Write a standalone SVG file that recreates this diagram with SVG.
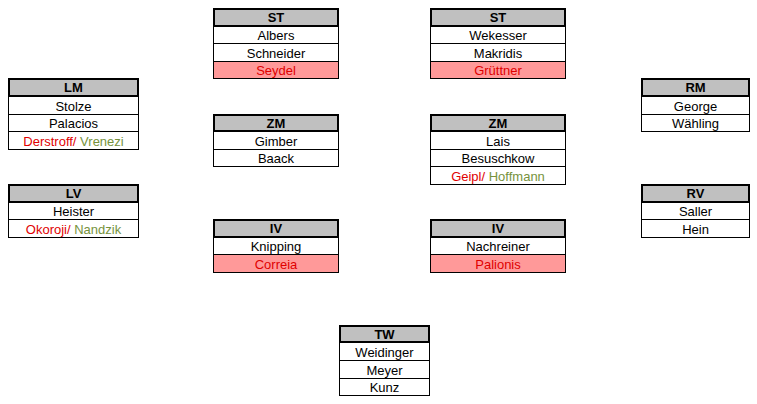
<svg xmlns="http://www.w3.org/2000/svg" width="757" height="404" viewBox="0 0 757 404">
<style>
.hd{fill:#C0C0C0;stroke:#000;stroke-width:2}
.c{fill:#fff;stroke:#000;stroke-width:1}
.p{fill:#FF9999;stroke:#000;stroke-width:1}
text{font-family:"Liberation Sans",Arial,sans-serif;font-size:13px;text-anchor:middle;fill:#000}
.b{font-weight:bold}
.r{fill:#E00000}
.g{fill:#76923C}
</style>
<rect width="757" height="404" fill="#fff"/>
<g id="connectors"/>
<g id="LM">
<rect class="c" x="8.5" y="96.5" width="130" height="18"/>
<rect class="c" x="8.5" y="114.5" width="130" height="17"/>
<rect class="c" x="8.5" y="131.5" width="130" height="18"/>
<rect class="hd" x="9" y="79" width="129" height="17"/>
<text class="b" x="73.5" y="92">LM</text>
<text x="73.5" y="110.5">Stolze</text>
<text x="73.5" y="128">Palacios</text>
<text x="73.5" y="145.5"><tspan class="r">Derstroff/ </tspan><tspan class="g">Vrenezi</tspan></text>
</g>
<g id="LV">
<rect class="c" x="8.5" y="202.5" width="130" height="17"/>
<rect class="c" x="8.5" y="219.5" width="130" height="18"/>
<rect class="hd" x="9" y="185" width="129" height="17"/>
<text class="b" x="73.5" y="198">LV</text>
<text x="73.5" y="216">Heister</text>
<text x="73.5" y="233.5"><tspan class="r">Okoroji/ </tspan><tspan class="g">Nandzik</tspan></text>
</g>
<g id="ST1">
<rect class="c" x="213.5" y="26.5" width="125" height="17"/>
<rect class="c" x="213.5" y="43.5" width="125" height="18"/>
<rect class="p" x="213.5" y="61.5" width="125" height="17"/>
<rect class="hd" x="214" y="9" width="124" height="17"/>
<text class="b" x="276" y="22">ST</text>
<text x="276" y="40">Albers</text>
<text x="276" y="57.5">Schneider</text>
<text class="r" x="276" y="75">Seydel</text>
</g>
<g id="ZM1">
<rect class="c" x="213.5" y="131.5" width="125" height="18"/>
<rect class="c" x="213.5" y="149.5" width="125" height="17"/>
<rect class="hd" x="214" y="115" width="124" height="16"/>
<text class="b" x="276" y="127.5">ZM</text>
<text x="276" y="145.5">Gimber</text>
<text x="276" y="163">Baack</text>
</g>
<g id="IV1">
<rect class="c" x="213.5" y="237.5" width="125" height="17"/>
<rect class="p" x="213.5" y="254.5" width="125" height="18"/>
<rect class="hd" x="214" y="220" width="124" height="17"/>
<text class="b" x="276" y="233">IV</text>
<text x="276" y="251">Knipping</text>
<text class="r" x="276" y="268.5">Correia</text>
</g>
<g id="ST2">
<rect class="c" x="430.5" y="26.5" width="135" height="17"/>
<rect class="c" x="430.5" y="43.5" width="135" height="18"/>
<rect class="p" x="430.5" y="61.5" width="135" height="17"/>
<rect class="hd" x="431" y="9" width="134" height="17"/>
<text class="b" x="498" y="22">ST</text>
<text x="498" y="40">Wekesser</text>
<text x="498" y="57.5">Makridis</text>
<text class="r" x="498" y="75">Grüttner</text>
</g>
<g id="ZM2">
<rect class="c" x="430.5" y="131.5" width="135" height="18"/>
<rect class="c" x="430.5" y="149.5" width="135" height="17"/>
<rect class="c" x="430.5" y="166.5" width="135" height="18"/>
<rect class="hd" x="431" y="115" width="134" height="16"/>
<text class="b" x="498" y="127.5">ZM</text>
<text x="498" y="145.5">Lais</text>
<text x="498" y="163">Besuschkow</text>
<text x="498" y="180.5"><tspan class="r">Geipl/ </tspan><tspan class="g">Hoffmann</tspan></text>
</g>
<g id="IV2">
<rect class="c" x="430.5" y="237.5" width="135" height="17"/>
<rect class="p" x="430.5" y="254.5" width="135" height="18"/>
<rect class="hd" x="431" y="220" width="134" height="17"/>
<text class="b" x="498" y="233">IV</text>
<text x="498" y="251">Nachreiner</text>
<text class="r" x="498" y="268.5">Palionis</text>
</g>
<g id="RM">
<rect class="c" x="641.5" y="96.5" width="108" height="18"/>
<rect class="c" x="641.5" y="114.5" width="108" height="17"/>
<rect class="hd" x="642" y="79" width="107" height="17"/>
<text class="b" x="695.5" y="92">RM</text>
<text x="695.5" y="110.5">George</text>
<text x="695.5" y="128">Wähling</text>
</g>
<g id="RV">
<rect class="c" x="641.5" y="202.5" width="108" height="17"/>
<rect class="c" x="641.5" y="219.5" width="108" height="18"/>
<rect class="hd" x="642" y="185" width="107" height="17"/>
<text class="b" x="695.5" y="198">RV</text>
<text x="695.5" y="216">Saller</text>
<text x="695.5" y="233.5">Hein</text>
</g>
<g id="TW">
<rect class="c" x="339.5" y="342.5" width="90" height="18"/>
<rect class="c" x="339.5" y="360.5" width="90" height="18"/>
<rect class="c" x="339.5" y="378.5" width="90" height="17"/>
<rect class="hd" x="340" y="326" width="89" height="16"/>
<text class="b" x="384.5" y="338.5">TW</text>
<text x="384.5" y="356.5">Weidinger</text>
<text x="384.5" y="374.5">Meyer</text>
<text x="384.5" y="392">Kunz</text>
</g>
</svg>
